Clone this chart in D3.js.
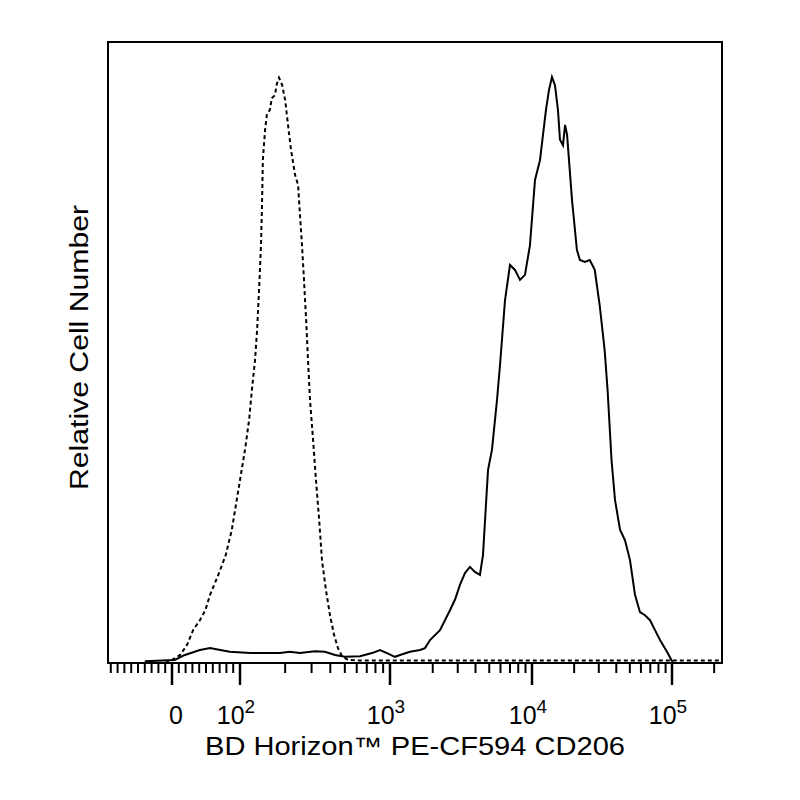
<!DOCTYPE html>
<html><head><meta charset="utf-8">
<script src="https://cdn.jsdelivr.net/npm/d3@7"></script>
<style>body{margin:0;background:#fff}</style></head><body>
<svg id="c" width="800" height="800"></svg>
<script>
// isotype control (dashed): fluorescence intensity and relative count
const dashedX=[-10,0,12,22,31,41,49,56,68,79,
 88,94,100,108,115,120,126,130,134,138,
 140,142,147,151,158,163,171,176,182,191,
 200,209,219,233,244,251,259,267,276,284,
 293,307,321,337,352,374,398,424,450,479,
 524,631,1000,10000,300000];
const dashedY=[0,0.5,1.3,2.9,5.3,6.9,8.5,11.0,14.2,17.4,
 21.5,25.5,29.5,34.4,39.2,44.0,48.9,53.7,60.2,67.4,
 73.1,81.1,86.0,88.4,89.2,91.1,91.6,93.4,94.4,93.2,
 90.8,86.8,82.7,78.7,77.1,72.3,67.4,61.8,55.3,48.9,
 42.4,36.0,29.5,23.1,16.6,11.8,7.7,4.5,2.4,1.1,
 0.5,0.4,0.4,0.4,0.4];
// CD206 stained (solid)
const solidX=[-40,4,19,41,56,71,85,117,185,215,
 251,316,368,430,500,631,759,858,970,1084,
 1176,1383,1627,1764,1913,2249,2644,2866,3109,3371,
 3656,3963,4298,4516,4900,5226,5668,5955,6454,6998,
 7588,8229,8923,9676,10506,11406,11981,12585,13220,13888,
 14588,15325,15848,16647,17215,17803,19307,20938,21990,23853,
 25873,28065,30443,33022,34674,36998,39160,42530,46160,50119,
 54410,59060,64130,69650,75610,82110,92100,101600,300000];
const solidY=[0.3,0.5,1.3,2.1,2.4,2.1,1.8,1.6,1.6,1.8,
 1.6,1.9,1.8,1.3,1.0,1.1,1.6,2.1,1.5,1.0,
 1.3,1.8,2.1,2.4,3.7,5.3,8.5,10.2,12.6,14.5,
 15.5,14.7,14.2,17.4,31.1,34.4,42.4,48.1,58.5,64.2,
 63.4,61.8,62.6,67.4,77.9,81.1,85.2,89.2,92.4,94.5,
 93.2,89.2,84.4,83.5,86.8,85.2,74.7,66.6,65.0,64.7,
 65.0,63.4,57.7,50.5,44.0,32.7,26.3,21.5,19.8,16.6,
 11.0,8.2,7.7,6.9,5.3,3.7,1.8,0,0];
const xMajor=[0,100,1000,10000,100000];
const xMajorLabels=[["0",""],["10","2"],["10","3"],["10","4"],["10","5"]];
const xTitle="BD Horizon™ PE-CF594 CD206";
const yTitle="Relative Cell Number";

const LN10=Math.LN10;
function tr(v){return v>=100?Math.log10(v):2+(v-100)/(100*LN10);}
const lin=d3.scaleLinear().domain([tr(0),2,3,4,5]).range([172,240,390,532,672]);
const x=v=>lin(tr(v));
const y=d3.scaleLinear().domain([0,100]).range([663,43]);
const L=108,R=722,T=42,B=663;
const FF="Liberation Sans, Arial";
const svg=d3.select("#c");
svg.append("clipPath").attr("id","cp").append("rect").attr("x",L).attr("y",T).attr("width",R-L).attr("height",B-T);
const g=svg.append("g").attr("clip-path","url(#cp)");
function pts(X,Y){const n=Math.min(X.length,Y.length);return d3.range(n).map(i=>[X[i],Y[i]]);}
const line=d3.line().x(d=>x(d[0])).y(d=>y(d[1]));
g.append("path").attr("d",line(pts(dashedX,dashedY))).attr("fill","none").attr("stroke","#000").attr("stroke-width",2).attr("stroke-dasharray","4,3");
g.append("path").attr("d",line(pts(solidX,solidY))).attr("fill","none").attr("stroke","#000").attr("stroke-width",2);
svg.append("rect").attr("x",L).attr("y",T).attr("width",R-L).attr("height",B-T).attr("fill","none").attr("stroke","#000").attr("stroke-width",2);
let minor=[];
for(let v=-90;v<100;v+=10) if(v!==0) minor.push(v);
for(let k=2;k<=5;k++) for(let m=2;m<=9;m++){const v=m*Math.pow(10,k); if(x(v)<R) minor.push(v);}
const ta=svg.append("g");
minor.forEach(v=>{const px=x(v); if(px>L) ta.append("line").attr("x1",px).attr("x2",px).attr("y1",B).attr("y2",B+10).attr("stroke","#000").attr("stroke-width",2);});
xMajor.forEach(v=>ta.append("line").attr("x1",x(v)).attr("x2",x(v)).attr("y1",B).attr("y2",B+22).attr("stroke","#000").attr("stroke-width",2.5));
xMajor.forEach((v,i)=>{const t=ta.append("text").attr("x",x(v)+(i?-4:4)).attr("y",724).attr("text-anchor","middle").attr("font-family",FF).attr("font-size",25);
 t.append("tspan").text(xMajorLabels[i][0]);
 if(xMajorLabels[i][1]) t.append("tspan").attr("dy",-11).attr("font-size",19).text(xMajorLabels[i][1]);});
svg.append("text").attr("x",205).attr("y",755).attr("textLength",420).attr("lengthAdjust","spacingAndGlyphs").attr("font-family",FF).attr("font-size",25).text(xTitle);
svg.append("text").attr("transform","translate(88,490) rotate(-90)").attr("textLength",285).attr("lengthAdjust","spacingAndGlyphs").attr("font-family",FF).attr("font-size",25).text(yTitle);
</script></body></html>
